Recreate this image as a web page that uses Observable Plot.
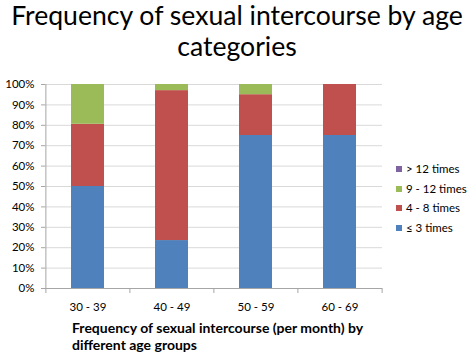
<!DOCTYPE html>
<html><head><meta charset="utf-8">
<script src="https://cdn.jsdelivr.net/npm/d3@7"></script>
<script src="https://cdn.jsdelivr.net/npm/@observablehq/plot@0.6"></script>
<style>
html,body{margin:0;padding:0;background:#fff;}
#wrap{position:relative;width:474px;height:357px;font-family:Lato,"Open Sans",sans-serif;overflow:hidden;}
#title{position:absolute;left:0;top:0;width:474px;text-align:center;font-size:26.6px;line-height:31px;color:#000;}
#xtitle{position:absolute;left:72px;top:319px;font-size:14px;font-weight:bold;line-height:17px;color:#000;}
#legend{position:absolute;left:396px;top:162px;font-size:11.5px;color:#000;}
#legend div{height:19.5px;line-height:14px;white-space:nowrap;}
#legend span{display:inline-block;width:6px;height:6px;margin-right:4px;vertical-align:1px;}
svg{position:absolute;left:0;top:0;}
</style></head>
<body><div id="wrap"></div>
<script>
const categories = ["30 - 39","40 - 49","50 - 59","60 - 69"];
const seriesNames = ["≤ 3 times","4 - 8 times","9 - 12 times","> 12 times"];
const seriesColors = ["#4F81BD","#C0504D","#9BBB59","#8064A2"];
const le3 = [50, 23.5, 75, 75];
const f4to8 = [30.5, 73.5, 20, 25];
const f9to12 = [19.5, 3, 5, 0];
const gt12 = [0, 0, 0, 0];
const yTicks = [0,10,20,30,40,50,60,70,80,90,100];
const titleLines = ["Frequency of sexual intercourse by age","categories"];
const xTitleLines = ["Frequency of sexual intercourse (per month) by","different age groups"];

const seriesValues = [le3, f4to8, f9to12, gt12];
const data = [];
seriesNames.forEach((s, i) => categories.forEach((c, j) => data.push({cat: c, series: s, value: seriesValues[i][j]})));

const W = 474, H = 357, ml = 45, mr = 92;
const step = (W - ml - mr) / categories.length;

const chart = Plot.plot({
  width: W, height: H,
  marginTop: 84, marginBottom: 69, marginLeft: ml, marginRight: mr,
  style: {fontFamily: "Lato, 'Open Sans', sans-serif", fontSize: "11.5px", color: "#000", background: "transparent"},
  x: {domain: categories, paddingInner: 0.61, paddingOuter: 0.305, label: null},
  y: {domain: [0, 100], label: null},
  color: {domain: seriesNames, range: seriesColors},
  marks: [
    Plot.ruleY(yTicks, {stroke: "#D9D9D9", strokeWidth: 1}),
    Plot.barY(data, Plot.stackY({order: seriesNames, x: "cat", y: "value", fill: "series"})),
    Plot.ruleX([categories[0]], {x: d => d, dx: -step/2, stroke: "#A6A6A6", y1: 0, y2: 100}),
    Plot.ruleY([0], {stroke: "#A6A6A6"}),
    Plot.ruleX(categories, {x: d => d, dx: -step/2, y1: 0, y2: 0, insetBottom: -5, stroke: "#A6A6A6"}),
    Plot.ruleX([categories[categories.length - 1]], {x: d => d, dx: step/2, y1: 0, y2: 0, insetBottom: -5, stroke: "#A6A6A6"}),
    Plot.axisX({tickSize: 0, tickPadding: 14, fontSize: 11.5}),
    Plot.axisY({ticks: yTicks, tickFormat: d => d + "%", tickSize: 4, tickPadding: 7, stroke: "#A6A6A6", fontSize: 11.5})
  ]
});

const wrap = document.getElementById("wrap");
wrap.appendChild(chart);
const t = document.createElement("div"); t.id = "title";
t.innerHTML = titleLines.join("<br>"); wrap.appendChild(t);
const xt = document.createElement("div"); xt.id = "xtitle";
xt.innerHTML = xTitleLines.join("<br>"); wrap.appendChild(xt);
const lg = document.createElement("div"); lg.id = "legend";
[...seriesNames].reverse().forEach((s) => {
  const d = document.createElement("div");
  const sw = document.createElement("span");
  sw.style.background = seriesColors[seriesNames.indexOf(s)];
  d.appendChild(sw); d.appendChild(document.createTextNode(s));
  lg.appendChild(d);
});
wrap.appendChild(lg);
</script></body></html>
